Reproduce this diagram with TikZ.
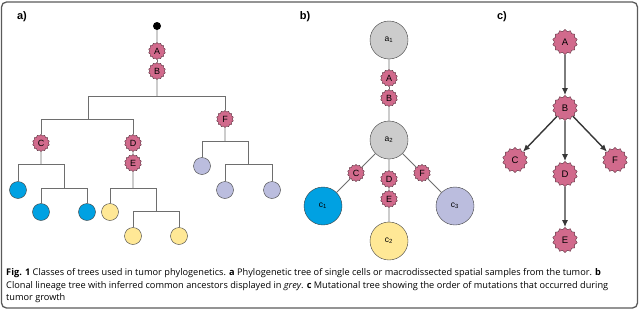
\documentclass[tikz,border=0pt]{standalone}
\usepackage{fontspec}
\setmainfont{Liberation Sans}
\newfontfamily\capfont{Open Sans}
\usetikzlibrary{positioning}
\usetikzlibrary{calc}
\usetikzlibrary{arrows.meta}
\usetikzlibrary{shapes.geometric}
\definecolor{mutpink}{RGB}{209,106,140}
\definecolor{mutline}{RGB}{90,45,60}
\definecolor{cellblue}{RGB}{0,161,226}
\definecolor{cellyellow}{RGB}{255,232,150}
\definecolor{celllilac}{RGB}{187,189,222}
\definecolor{ancgrey}{RGB}{204,204,204}
\definecolor{treeline}{RGB}{110,110,110}
\definecolor{arrowgrey}{RGB}{55,55,55}
\definecolor{framegrey}{RGB}{90,90,90}

\begin{document}
\begin{tikzpicture}[x=1pt, y=-1pt, >={Latex[length=7pt,width=6pt]},
    mut/.style={star, star points=14, star point ratio=1.18, draw=mutline, fill=mutpink, inner sep=0pt, minimum size=17pt, font=\fontsize{9}{10}\selectfont},
    bigmut/.style={mut, minimum size=25pt, font=\fontsize{9.5}{10}\selectfont},
    cell/.style={circle, draw=black!75, inner sep=0pt, minimum size=17pt},
    clone/.style={circle, draw=black!75, inner sep=0pt, minimum size=38pt, font=\fontsize{8.5}{9}\selectfont},
    panel/.style={font=\bfseries\fontsize{11}{12}\selectfont},
    capline/.style={anchor=base west, inner sep=0pt, font=\capfont\fontsize{9.2}{10}\selectfont}]

    \useasboundingbox (0,0) rectangle (640,311);
    \draw[framegrey, line width=1.3pt, rounded corners=5pt] (1.5,2) rectangle (637.5,308);

    % a) phylogenetic tree
    \node[panel] (la) at (22,17) {a)};
    \node[circle, fill=black, inner sep=0pt, minimum size=8pt] (root) at (157,26) {};
    \node[mut] (aA) at (157,51) {A};
    \node[mut] (aB) at (157,71) {B};
    \coordinate (j0) at (157,96);
    \coordinate (j1) at (88,119);
    \node[mut] (aC) at (41,143) {C};
    \node[mut] (aD) at (133,143) {D};
    \node[mut] (aE) at (133,163) {E};
    \node[mut] (aF) at (225,119) {F};
    \coordinate (jC) at (41,164);
    \coordinate (jC2) at (64,188);
    \coordinate (jE) at (133,188);
    \coordinate (jE2) at (156,211);
    \coordinate (jF) at (225,141);
    \coordinate (jF2) at (248,164);
    \node[cell, fill=cellblue] (b1) at (18,190) {};
    \node[cell, fill=cellblue] (b2) at (41,212) {};
    \node[cell, fill=cellblue] (b3) at (87,212) {};
    \node[cell, fill=cellyellow] (y1) at (110,212) {};
    \node[cell, fill=cellyellow] (y2) at (133,236) {};
    \node[cell, fill=cellyellow] (y3) at (179,236) {};
    \node[cell, fill=celllilac] (p1) at (202,166) {};
    \node[cell, fill=celllilac] (p2) at (225,190) {};
    \node[cell, fill=celllilac] (p3) at (272,190) {};
    \begin{scope}[treeline, line width=0.8pt]
        \draw (root) -- (aA);
        \draw (aA) -- (aB);
        \draw (aB) -- (j0);
        \draw (j0) -| (j1);
        \draw (j0) -| (aF);
        \draw (j1) -| (aC);
        \draw (j1) -| (aD);
        \draw (aD) -- (aE);
        \draw (aC) -- (jC);
        \draw (jC) -| (b1);
        \draw (jC) -| (jC2);
        \draw (jC2) -| (b2);
        \draw (jC2) -| (b3);
        \draw (aE) -- (jE);
        \draw (jE) -| (y1);
        \draw (jE) -| (jE2);
        \draw (jE2) -| (y2);
        \draw (jE2) -| (y3);
        \draw (aF) -- (jF);
        \draw (jF) -| (p1);
        \draw (jF) -| (jF2);
        \draw (jF2) -| (p2);
        \draw (jF2) -| (p3);
    \end{scope}

    % b) clonal lineage tree
    \node[panel] (lb) at (305,17) {b)};
    \node[clone, fill=ancgrey] (a1) at (389,40) {a\textsubscript{1}};
    \node[mut] (bA) at (389,78) {A};
    \node[mut] (bB) at (389,98) {B};
    \node[clone, fill=ancgrey] (a2) at (389,140) {a\textsubscript{2}};
    \node[clone, fill=cellblue] (c1) at (323,206) {c\textsubscript{1}};
    \node[clone, fill=cellyellow] (c2) at (389,241) {c\textsubscript{2}};
    \node[clone, fill=celllilac] (c3) at (455,206) {c\textsubscript{3}};
    \node[mut] (bC) at ($(a2)!0.5!(c1)$) {C};
    \node[mut] (bF) at ($(a2)!0.5!(c3)$) {F};
    \node[mut] (bD) at (389,179) {D};
    \node[mut] (bE) at (389,199) {E};
    \begin{scope}[treeline, line width=0.8pt]
        \draw (a1) -- (bA);
        \draw (bA) -- (bB);
        \draw (bB) -- (a2);
        \draw (a2) -- (bC);
        \draw (bC) -- (c1);
        \draw (a2) -- (bD);
        \draw (bD) -- (bE);
        \draw (bE) -- (c2);
        \draw (a2) -- (bF);
        \draw (bF) -- (c3);
    \end{scope}

    % c) mutational tree
    \node[panel] (lc) at (502,17) {c)};
    \node[bigmut] (cA) at (565,42) {A};
    \node[bigmut] (cB) at (565,108) {B};
    \node[bigmut] (cC) at (515,160) {C};
    \node[bigmut] (cD) at (565,174) {D};
    \node[bigmut] (cF) at (615,160) {F};
    \node[bigmut] (cE) at (565,240) {E};
    \begin{scope}[arrowgrey, line width=1.4pt, ->]
        \draw (cA) -- (cB);
        \draw (cB) -- (cC);
        \draw (cB) -- (cD);
        \draw (cB) -- (cF);
        \draw (cD) -- (cE);
    \end{scope}

    % caption
    \node[capline] (cap1) at (6,275.5) {\textbf{Fig. 1} Classes of trees used in tumor phylogenetics. \textbf{a} Phylogenetic tree of single cells or macrodissected spatial samples from the tumor. \textbf{b}};
    \node[capline] (cap2) at (6,288) {Clonal lineage tree with inferred common ancestors displayed in \textit{grey}. \textbf{c} Mutational tree showing the order of mutations that occurred during};
    \node[capline] (cap3) at (6,300.5) {tumor growth};
\end{tikzpicture}
\end{document}
